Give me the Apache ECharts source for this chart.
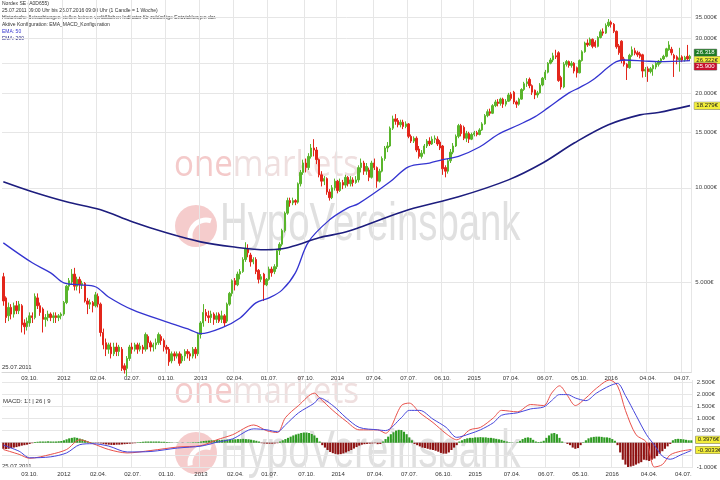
<!DOCTYPE html>
<html><head><meta charset="utf-8">
<script src="https://cdn.jsdelivr.net/npm/echarts@6/dist/echarts.min.js"></script>
<style>html,body{margin:0;padding:0;background:#fff}#c{width:720px;height:480px}</style>
</head><body><div id="c"></div>
<script>
// ---------- DATA ----------
const firstWeek = Date.UTC(2011, 6, 25); // 25.07.2011, one candle = one week
const weekCount = 262;
const tickDates = ['03.10.2011','02.01.2012','02.04.2012','02.07.2012','01.10.2012','31.12.2012','01.04.2013','01.07.2013','07.10.2013','30.12.2013','07.04.2014','07.07.2014','06.10.2014','29.12.2014','06.04.2015','06.07.2015','05.10.2015','28.12.2015','04.04.2016','04.07.2016'];
const tickTexts = ['03.10.','2012','02.04.','02.07.','01.10.','2013','02.04.','01.07.','07.10.','2014','07.04.','07.07.','06.10.','2015','07.04.','06.07.','05.10.','2016','04.04.','04.07.'];
const priceTicks = [5,10,15,20,25,30,35];
const priceLabels = [5,10,15,20,30,35];
const macdTicks = [-1,-0.5,0,0.5,1,1.5,2,2.5];
const macdLabels = [-1,0.5,1,1.5,2,2.5];

// weekly candles [open, close, low, high]
const candles = [
[5.2,4.35,4.2,5.35],[4.45,3.85,3.7,4.5],[3.9,4.15,3.75,4.3],[4.15,3.95,3.8,4.25],[3.95,4.2,3.85,4.3],
[4.2,4.05,3.95,4.35],[4.05,4.25,3.95,4.35],[4.2,3.65,3.45,4.25],[3.7,3.6,3.4,3.8],[3.6,3.75,3.5,3.85],
[3.7,3.9,3.6,4.0],[3.9,3.85,3.7,4.0],[3.85,4.5,3.8,4.6],[4.45,4.2,4.1,4.6],[4.2,4.0,3.9,4.3],
[4.1,3.8,3.45,4.15],[3.8,3.85,3.6,3.95],[3.85,3.95,3.75,4.05],[3.95,3.85,3.75,4.0],[3.85,3.9,3.7,4.0],
[3.9,3.85,3.7,4.0],[3.85,3.9,3.75,3.95],[3.9,3.95,3.8,4.0],[3.95,4.3,3.9,4.35],[4.3,4.85,4.25,4.9],
[4.85,5.05,4.7,5.15],[5.0,5.3,4.9,5.5],[5.3,4.85,4.7,5.55],[4.85,5.1,4.7,5.2],[5.1,4.9,4.6,5.2],
[4.9,4.95,4.75,5.05],[4.95,4.35,4.3,5.0],[4.35,4.25,3.95,4.45],[4.25,4.3,4.1,4.4],[4.3,4.2,4.0,4.35],
[4.2,4.55,4.15,4.65],[4.5,4.25,4.15,4.6],[4.25,3.45,3.35,4.3],[3.45,3.15,3.05,3.55],[3.2,3.05,2.9,3.3],
[3.05,3.15,2.95,3.2],[3.1,2.95,2.85,3.2],[2.95,3.1,2.9,3.2],[3.1,3.0,2.9,3.2],[3.0,3.1,2.9,3.15],
[3.05,2.65,2.6,3.1],[2.7,2.62,2.55,2.75],[2.65,2.85,2.5,2.9],[2.85,3.1,2.8,3.15],[3.1,3.05,2.95,3.2],
[3.05,3.15,3.0,3.2],[3.15,3.05,2.95,3.2],[3.05,3.12,3.0,3.2],[3.1,3.05,2.95,3.15],[3.05,3.4,3.0,3.45],
[3.35,3.2,3.05,3.4],[3.2,3.1,3.0,3.25],[3.1,3.15,3.0,3.2],[3.15,3.2,3.05,3.3],[3.2,3.4,3.15,3.45],
[3.35,3.25,3.15,3.4],[3.25,3.1,3.0,3.3],[3.1,3.05,2.95,3.15],[3.05,2.78,2.7,3.1],[2.8,2.95,2.75,3.0],
[2.95,2.9,2.8,3.0],[2.9,2.95,2.85,3.0],[2.95,2.75,2.7,3.0],[2.8,2.9,2.75,2.95],[2.9,3.0,2.8,3.05],
[3.0,2.95,2.85,3.05],[2.95,2.9,2.8,3.0],[2.9,3.05,2.85,3.1],[3.05,2.95,2.85,3.1],[2.95,3.4,2.9,3.45],
[3.4,3.7,3.3,3.75],[3.7,4.0,3.6,4.25],[4.0,3.9,3.75,4.1],[3.9,3.85,3.7,4.05],[3.85,3.95,3.7,4.05],
[3.95,3.8,3.65,4.0],[3.8,3.9,3.7,4.0],[3.95,3.75,3.7,4.0],[3.8,3.9,3.7,4.05],[3.9,3.7,3.6,3.95],
[3.75,4.25,3.7,4.3],[4.25,4.6,4.2,4.65],[4.6,5.05,4.5,5.1],[5.05,4.9,4.7,5.15],[4.9,5.3,4.85,5.4],
[5.3,5.4,5.1,5.5],[5.4,5.9,5.35,6.0],[5.9,6.4,5.8,6.7],[6.4,6.2,6.0,6.6],[6.1,5.8,5.6,6.2],
[5.8,5.9,5.7,6.0],[5.9,5.4,5.3,6.0],[5.45,5.1,4.95,5.5],[5.1,5.2,5.0,5.3],[5.3,4.9,4.35,5.35],
[4.9,5.1,4.85,5.15],[5.1,5.5,5.05,5.6],[5.5,5.35,5.2,5.6],[5.4,5.6,5.3,5.7],[5.6,6.3,5.5,6.35],
[6.3,6.6,6.1,6.7],[6.6,7.3,6.5,7.4],[7.3,8.3,7.2,8.4],[8.3,9.1,8.2,9.3],[9.1,8.95,8.7,9.3],
[8.95,9.1,8.8,9.3],[9.1,9.0,8.8,9.2],[9.0,10.3,8.9,10.4],[10.3,11.2,10.1,11.4],[11.2,12.0,11.0,12.3],
[12.0,11.6,11.2,12.4],[11.6,12.6,11.4,12.9],[12.6,13.4,12.4,13.8],[13.4,13.2,12.6,14.3],[13.2,12.3,11.9,13.5],
[12.3,11.0,10.8,12.4],[11.0,10.5,10.1,11.3],[10.5,10.7,10.2,10.9],[10.7,9.7,9.5,10.8],[9.7,9.3,9.1,9.9],
[9.3,10.0,9.2,10.2],[10.0,10.5,9.8,10.7],[10.5,9.8,9.6,10.6],[9.8,10.4,9.7,10.7],[10.4,10.2,9.9,10.6],
[10.2,10.8,10.0,11.0],[10.8,10.3,10.1,10.9],[10.3,10.6,10.1,10.9],[10.6,10.4,10.1,10.8],[10.4,10.6,10.3,10.9],
[10.6,11.6,10.4,11.8],[11.6,12.0,11.2,12.4],[12.0,11.3,11.0,12.2],[11.3,11.7,11.0,12.0],[11.4,10.8,10.5,11.6],
[10.8,12.0,10.7,12.2],[12.0,11.6,11.4,12.4],[11.6,10.5,10.0,11.7],[10.5,11.3,10.4,11.5],[11.3,12.4,11.2,12.6],
[12.4,13.4,12.2,13.6],[13.4,13.6,13.0,14.0],[13.6,15.5,13.5,15.7],[15.5,16.6,15.3,17.0],[16.6,16.3,15.9,17.2],
[16.4,15.9,15.6,16.7],[15.9,16.2,15.6,16.5],[16.2,15.7,15.4,16.5],[15.7,16.0,15.5,16.3],[16.0,14.6,14.4,16.1],
[14.6,14.1,13.9,14.8],[14.1,14.4,13.9,14.6],[14.4,13.2,13.0,14.6],[13.3,12.6,12.4,13.6],[12.6,12.9,12.4,13.2],
[12.9,13.6,12.8,13.8],[13.6,14.1,13.4,14.3],[14.1,13.8,13.6,14.5],[13.8,14.3,13.7,14.6],[14.3,14.4,13.9,14.7],
[14.3,13.8,13.6,14.6],[14.0,13.4,13.2,14.2],[13.6,11.5,11.0,13.7],[11.6,11.3,10.8,11.8],[11.3,12.2,11.1,12.4],
[12.2,13.0,12.0,13.3],[13.0,13.6,12.8,13.9],[13.6,14.6,13.5,14.8],[14.6,15.8,14.4,16.0],[15.8,14.9,14.6,16.0],
[15.6,14.4,14.2,15.8],[14.4,14.9,14.0,15.2],[14.9,14.3,13.9,15.1],[14.3,14.8,14.2,15.0],[14.8,15.0,14.6,15.2],
[15.0,14.8,14.6,15.2],[14.8,15.3,14.7,15.5],[15.3,16.0,15.2,16.2],[16.0,17.0,15.9,17.2],[17.0,17.5,16.8,17.8],
[17.5,17.3,17.0,17.9],[17.3,18.3,17.2,18.5],[18.3,18.8,18.1,19.1],[18.8,18.6,18.2,19.2],[18.6,19.2,18.3,19.4],
[19.2,18.5,18.0,19.4],[18.5,18.9,18.2,19.2],[18.9,19.8,18.8,20.1],[19.9,19.3,19.0,20.2],[20.2,18.8,18.5,20.4],
[18.8,18.5,18.0,19.0],[18.5,19.2,18.3,19.4],[19.2,20.6,19.1,20.8],[20.6,21.5,20.4,21.8],[21.5,21.8,21.0,22.4],
[22.2,21.2,20.8,22.5],[21.2,20.2,19.8,21.4],[20.5,19.8,19.2,20.6],[19.8,20.1,19.4,20.4],[20.1,21.3,20.0,21.6],
[21.3,22.4,21.1,22.6],[22.4,23.4,22.1,23.8],[23.4,25.0,23.2,25.2],[25.0,25.6,24.8,26.0],[25.6,26.4,25.2,27.0],
[26.4,26.2,25.8,27.6],[27.0,22.0,21.8,27.3],[22.5,21.0,20.6,22.8],[21.0,24.8,20.8,25.2],[24.8,25.3,24.4,25.6],
[25.3,24.6,24.2,25.5],[24.6,25.0,24.2,25.4],[25.0,23.6,23.2,25.2],[24.2,23.3,22.5,24.4],[23.3,25.5,23.2,25.7],
[25.5,27.2,25.3,27.5],[27.2,29.0,27.0,29.3],[29.0,28.6,28.2,29.8],[28.6,29.8,28.4,30.2],[29.8,28.3,27.9,30.0],
[29.2,28.3,28.0,29.6],[28.3,30.2,28.1,30.5],[30.2,31.5,30.0,32.0],[31.5,31.2,30.6,32.3],[31.2,33.0,31.0,33.5],
[33.0,33.8,32.6,34.6],[33.8,33.3,32.5,34.2],[33.3,31.6,31.2,33.6],[31.6,28.2,27.8,31.8],[28.4,27.0,26.6,28.8],
[29.4,25.5,25.0,29.6],[25.8,24.8,24.4,26.2],[24.8,24.2,22.1,25.0],[24.2,26.5,24.0,26.8],[26.5,27.6,26.2,28.3],
[27.4,26.9,26.5,28.0],[27.0,26.6,26.2,27.4],[26.8,26.3,25.9,27.2],[26.6,23.6,22.5,26.8],[23.6,23.9,22.6,24.3],
[24.0,23.5,21.8,24.4],[23.5,24.0,23.2,24.3],[24.0,24.6,22.8,24.8],[24.3,25.0,23.9,25.2],[24.8,25.4,24.4,25.6],
[25.2,25.8,24.9,26.0],[25.8,26.3,25.6,26.6],[26.3,27.8,26.1,28.0],[27.6,28.6,27.4,29.4],[27.7,27.0,26.5,28.2],
[26.5,25.9,22.6,26.8],[26.2,25.7,24.8,26.5],[25.6,26.0,23.5,28.0],[26.2,25.6,25.2,26.5],[25.6,26.1,25.3,26.4],
[26.3,25.8,25.4,28.6],[25.9,26.3,25.6,26.6]
];

// [week index, value]
const ema50 = [[0,6.67],[11,5.76],[18,5.35],[23,4.97],[29,4.90],[35,4.83],[40,4.48],[49,4.08],[62,3.73],[71,3.52],[75,3.42],[83,3.57],[90,3.84],[96,4.29],[101,4.45],[106,4.72],[111,5.35],[116,6.72],[124,7.9],[131,8.63],[135,8.9],[147,10.45],[154,11.67],[162,12.0],[167,12.3],[173,12.6],[181,13.5],[188,14.8],[196,15.9],[202,16.85],[207,18.0],[215,20.1],[219,20.9],[224,22.1],[230,24.3],[233,25.3],[236,25.6],[244,25.4],[249,25.3],[261,25.5]];
const ema200 = [[0,10.45],[11,9.71],[24,9.02],[37,8.51],[49,7.79],[62,7.18],[75,6.72],[87,6.48],[100,6.34],[106,6.39],[112,6.58],[120,6.93],[129,7.18],[135,7.45],[154,8.51],[173,9.36],[192,10.6],[205,12.0],[217,13.9],[230,15.9],[242,17.1],[249,17.4],[261,18.3]];

// MACD 12|26|9
const macdLine = [[0,-0.28],[6,-0.48],[10,-0.64],[18,-0.48],[24,-0.28],[29,0.12],[34,-0.04],[40,-0.28],[47,-0.42],[56,-0.32],[66,-0.18],[75,-0.12],[81,0.12],[87,0.33],[95,0.73],[100,0.49],[104,0.42],[107,1.03],[112,1.53],[118,2.04],[120,1.84],[125,1.33],[130,0.89],[135,0.53],[142,0.53],[145,0.39],[151,1.53],[154,1.63],[158,1.23],[163,0.83],[168,0.37],[172,0.12],[177,0.53],[181,0.63],[186,1.03],[189,1.33],[195,1.27],[200,1.57],[205,1.53],[208,2.04],[211,2.34],[214,1.94],[217,1.53],[221,1.84],[225,2.24],[230,2.58],[233,2.34],[236,1.33],[240,0.33],[244,0.02],[247,-1.0],[250,-0.9],[253,-0.5],[257,-0.35],[261,-0.28]];
const signalLine = [[0,-0.10],[6,-0.35],[10,-0.62],[18,-0.58],[24,-0.42],[29,-0.08],[34,-0.04],[40,-0.14],[47,-0.38],[56,-0.36],[66,-0.22],[75,-0.14],[81,0.02],[87,0.16],[95,0.57],[100,0.53],[104,0.45],[107,0.73],[112,1.23],[118,1.63],[120,1.84],[125,1.53],[130,1.03],[135,0.63],[142,0.53],[145,0.50],[151,1.03],[154,1.33],[158,1.33],[163,0.97],[168,0.63],[172,0.22],[177,0.37],[181,0.53],[186,0.83],[189,1.13],[195,1.23],[200,1.39],[205,1.47],[208,1.73],[211,1.98],[214,1.98],[217,1.84],[221,1.73],[225,2.04],[230,2.34],[233,2.44],[236,1.94],[240,1.13],[244,0.33],[247,-0.1],[250,-0.55],[253,-0.68],[257,-0.5],[261,-0.32]];
const macdHist = [
-0.25,-0.26,-0.25,-0.22,-0.2,-0.18,-0.15,-0.12,-0.1,-0.08,-0.05,-0.02,
0.03,0.04,0.05,0.05,0.05,0.06,0.05,0.05,0.05,0.06,0.07,
0.1,0.14,0.18,0.2,0.22,0.2,0.17,0.14,0.1,0.06,
0.03,0.01,-0.01,-0.02,-0.03,
-0.05,-0.07,-0.08,-0.09,-0.09,-0.08,-0.08,-0.07,-0.06,-0.05,-0.04,-0.03,-0.02,
0.02,0.03,0.04,0.05,0.05,0.05,0.05,0.05,0.05,0.04,0.04,0.03,0.02,0.01,
0,0.01,0,-0.01,0,0.01,0.01,0.02,0.02,0.03,
0.05,0.07,0.08,0.09,0.1,0.1,0.11,0.11,0.12,0.12,0.13,0.13,0.14,0.14,0.15,0.15,0.16,0.15,0.14,0.12,0.1,0.08,0.05,
-0.02,-0.03,-0.04,-0.04,-0.04,-0.03,-0.02,
0.05,0.1,0.15,0.2,0.25,0.3,0.34,0.37,0.4,0.42,0.42,0.4,0.36,0.3,0.2,
0.05,
-0.1,-0.2,-0.3,-0.38,-0.43,-0.46,-0.48,-0.47,-0.44,-0.4,-0.35,-0.3,-0.24,-0.18,-0.12,
-0.08,-0.06,-0.05,-0.04,-0.03,-0.02,-0.06,-0.05,
0.05,0.15,0.25,0.35,0.43,0.5,0.53,0.52,0.45,0.35,0.22,0.1,
-0.05,-0.1,-0.15,-0.2,-0.22,-0.25,-0.28,-0.3,-0.33,-0.37,-0.42,-0.45,-0.45,-0.4,-0.3,-0.2,-0.1,
0.05,0.1,0.15,0.18,0.2,0.2,0.22,0.22,0.23,0.22,0.22,0.2,0.2,0.18,0.16,0.14,0.12,0.08,0.05,
0.02,0.01,0,0.02,
0.08,0.15,0.2,0.22,0.2,0.12,
0.05,0.03,0.04,0.08,
0.2,0.3,0.38,0.4,0.35,0.2,
0.05,0,-0.05,-0.1,
-0.2,-0.25,-0.22,-0.1,
0.02,
0.1,0.18,0.22,0.24,0.25,0.25,0.24,0.22,0.22,0.2,0.15,0.08,
-0.1,-0.4,-0.7,-0.9,-1.0,-0.98,-0.95,-0.9,-0.85,-0.8,-0.7,-0.72,-0.75,-0.7,-0.65,-0.55,-0.45,-0.35,-0.25,-0.15,-0.05,
0.1,0.15,0.16,0.15,0.14,0.12,0.1,0.1
];

// value boxes at the right axis
const priceBoxes = [
  {value:27.0, text:'26.318', bg:'#1e7b24', fg:'#ffffff'},
  {value:25.6, text:'26.322€', bg:'#f3ee3a', fg:'#222222'},
  {value:24.4, text:'25.900', bg:'#c8102e', fg:'#ffffff'},
  {value:18.28, text:'18.279€', bg:'#f3ee3a', fg:'#222222'}
];
const macdBoxes = [
  {value:0.12, text:'0.3976€', bg:'#f3ee3a', fg:'#222222'},
  {value:-0.3, text:'-0.3033€', bg:'#f3ee3a', fg:'#222222'}
];

const headerLines = [
  {text:'Nordex SE (A0D655)', color:'#333'},
  {text:'25.07.2011 09:00 Uhr bis 25.07.2016 09:00 Uhr (1 Candle = 1 Woche)', color:'#333'},
  {text:'Historische Betrachtungen stellen keinen verläßlichen Indikator für zukünftige Entwicklungen dar.', color:'#333'},
  {text:'Aktive Konfiguration: EMA_MACD_Konfiguration', color:'#333'},
  {text:'EMA: 50', color:'#3434d0'},
  {text:'EMA: 200', color:'#1d1d7e'}
];

// ---------- BUILD ----------
if (candles.length !== weekCount || macdHist.length !== weekCount) {
  throw new Error('length mismatch ' + candles.length + ' ' + macdHist.length);
}
function fmtDate(t){const d=new Date(t);const p=n=>String(n).padStart(2,'0');return p(d.getUTCDate())+'.'+p(d.getUTCMonth()+1)+'.'+d.getUTCFullYear();}
const dates = [];
for (let i=0;i<weekCount;i++) dates.push(fmtDate(firstWeek + i*7*86400000));
const tickMap = {};
tickDates.forEach((d,k)=>{tickMap[d]=tickTexts[k];});
const isTick = (idx,val)=> (dates[idx] in tickMap);

const FONT = 'Liberation Sans, Arial, sans-serif';
function xAxisCfg(gi){
  return {type:'category', gridIndex:gi, data:dates, boundaryGap:true,
    axisLine:{show:true, lineStyle:{color:'#d6d6d6'}}, axisTick:{show:false},
    axisLabel:{interval:isTick, formatter:(v)=>tickMap[v]||'', fontSize:6, color:'#333', margin:3, fontFamily:FONT},
    splitLine:{show:true, interval:isTick, lineStyle:{color:'#e6e6e6', width:1}}};
}
function boxLines(list){
  return {silent:true, symbol:['none','none'], animation:false,
    lineStyle:{color:'rgba(255,255,255,0)', width:1, type:'solid'},
    label:{show:true},
    data: list.map(b=>({yAxis:b.value,
      lineStyle:{color:'rgba(255,255,255,0)'},
      label:{show:true, position:'end', distance:3, formatter:b.text,
      backgroundColor:b.bg, color:b.fg, fontSize:6, fontFamily:FONT, padding:[1,2,0,2], borderColor:'#777', borderWidth:0.5}}))};
}

const wmMain = 0, wmMacd = 227;
function watermark(dy){
  return [
    {type:'text', x:174, y:148+dy, z:-5, silent:true, scaleX:0.92, style:{text:'{a|one}{b|markets}', rich:{a:{fill:'#f4caca', fontSize:36, fontFamily:'Open Sans, Liberation Sans, sans-serif'}, b:{fill:'#efdfdf', fontSize:36, fontFamily:'Open Sans, Liberation Sans, sans-serif'}}}},
    {type:'circle', z:-5, silent:true, shape:{cx:196, cy:226+dy, r:21}, style:{fill:'#f5cccc'}},
    {type:'arc', z:-5, silent:true, shape:{cx:206, cy:236+dy, r:16, startAngle:Math.PI*0.95, endAngle:Math.PI*1.6}, style:{stroke:'#ffffff', lineWidth:5, fill:null}},
    {type:'text', x:220, y:198+dy, z:-5, silent:true, scaleX:0.71, style:{text:'HypoVereinsbank', fill:'#e0e0e0', fontSize:54, fontFamily:'Liberation Sans, Arial, sans-serif'}}
  ];
}
const graphics = [].concat(watermark(wmMain), watermark(wmMacd));
headerLines.forEach((h,k)=>graphics.push({type:'text', x:2, y:1+k*7, silent:true, style:{text:h.text, fill:h.color, fontSize:5, fontFamily:FONT}}));
graphics.push({type:'text', x:2, y:364, silent:true, style:{text:'25.07.2011', fill:'#333', fontSize:6, fontFamily:FONT}});
graphics.push({type:'text', x:2, y:463, silent:true, style:{text:'25.07.2011', fill:'#333', fontSize:6, fontFamily:FONT}});
graphics.push({type:'text', x:3, y:398, silent:true, style:{text:'MACD: 12 | 26 | 9', fill:'#333', fontSize:6, fontFamily:FONT}});

const option = {
  animation:false,
  backgroundColor:'#ffffff',
  grid:[{left:2, right:27, top:0, height:372}, {left:2, right:27, top:380, height:88}],
  xAxis:[xAxisCfg(0), xAxisCfg(1)],
  yAxis:[
    {type:'log', gridIndex:0, position:'right', min:2.58, max:39.8, logBase:10,
     axisLine:{show:false}, axisTick:{show:false, customValues:priceTicks},
     axisLabel:{customValues:priceLabels, formatter:(v)=>Number(v).toFixed(3)+'€', fontSize:6, color:'#444', margin:4, fontFamily:FONT},
     splitLine:{show:true, lineStyle:{color:'#e6e6e6'}}},
    {type:'value', gridIndex:1, position:'right', min:-1.04, max:2.58,
     axisLine:{show:false}, axisTick:{show:false, customValues:macdTicks},
     axisLabel:{customValues:macdLabels, formatter:(v)=>Number(v).toFixed(3)+'€', fontSize:6, color:'#444', margin:4, fontFamily:FONT},
     splitLine:{show:true, lineStyle:{color:'#e6e6e6'}}}
  ],
  graphic: graphics,
  series:[
    {type:'candlestick', xAxisIndex:0, yAxisIndex:0, data:candles, barWidth:'72%',
     itemStyle:{color:'#5ab52c', color0:'#e3261b', borderColor:'#5ab52c', borderColor0:'#e3261b', borderWidth:1},
     markLine: boxLines(priceBoxes)},
    {type:'line', name:'EMA 50', xAxisIndex:0, yAxisIndex:0, data:ema50, smooth:0.35, symbol:'none',
     lineStyle:{color:'#3434d0', width:1.3}, z:3},
    {type:'line', name:'EMA 200', xAxisIndex:0, yAxisIndex:0, data:ema200, smooth:0.35, symbol:'none',
     lineStyle:{color:'#1d1d7e', width:1.6}, z:3},
    {type:'bar', xAxisIndex:1, yAxisIndex:1, data:macdHist, barWidth:'80%',
     itemStyle:{color:(p)=>p.value>=0?'#2e9b22':'#8e1212'}, markLine: boxLines(macdBoxes)},
    {type:'line', name:'MACD', xAxisIndex:1, yAxisIndex:1, data:macdLine, smooth:0.3, symbol:'none',
     lineStyle:{color:'#e8504a', width:1}, z:3},
    {type:'line', name:'Signal', xAxisIndex:1, yAxisIndex:1, data:signalLine, smooth:0.3, symbol:'none',
     lineStyle:{color:'#4646dc', width:1}, z:3}
  ]
};
const chart = echarts.init(document.getElementById('c'), null, {renderer:'canvas'});
chart.setOption(option);
</script></body></html>
